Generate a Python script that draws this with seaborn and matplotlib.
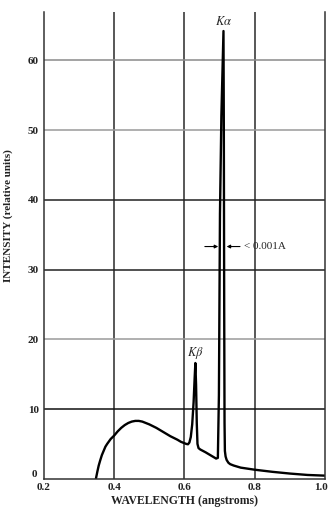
import matplotlib
matplotlib.use("Agg")
import matplotlib.pyplot as plt
import matplotlib.transforms as mtransforms
import seaborn as sns
import pandas as pd

# Data
wavelength = [0.348, 0.352, 0.356, 0.360, 0.365, 0.370, 0.375, 0.380, 0.390, 0.400,
              0.410, 0.420, 0.430, 0.440, 0.450, 0.460, 0.470, 0.480, 0.490, 0.500,
              0.520, 0.540, 0.560, 0.580, 0.590, 0.600, 0.605, 0.610, 0.614, 0.618,
              0.622, 0.626, 0.629, 0.631, 0.633, 0.635, 0.637, 0.640, 0.645, 0.660,
              0.680, 0.690, 0.695, 0.698, 0.701, 0.705, 0.711, 0.712, 0.713, 0.714,
              0.715, 0.717, 0.720, 0.725, 0.730, 0.740, 0.760, 0.800, 0.850, 0.900,
              0.950, 1.000]
intensity = [0.0, 1.0, 1.9, 2.6, 3.4, 4.0, 4.6, 5.0, 5.7, 6.2,
             6.8, 7.3, 7.7, 8.0, 8.2, 8.3, 8.3, 8.2, 8.0, 7.8,
             7.3, 6.7, 6.1, 5.6, 5.3, 5.1, 5.0, 4.95, 5.2, 6.0,
             7.8, 11.0, 14.5, 16.6, 13.5, 8.0, 5.0, 4.4, 4.2, 3.8,
             3.2, 2.9, 3.0, 12.0, 38.0, 52.0, 64.2, 50.0, 25.0, 8.0,
             4.0, 3.2, 2.7, 2.3, 2.1, 1.9, 1.6, 1.3, 1.0, 0.75,
             0.55, 0.45]
x_ticks = [0.2, 0.4, 0.6, 0.8, 1.0]
x_tick_labels = ["0.2", "0.4", "0.6", "0.8", "1.0"]
y_ticks = [0, 10, 20, 30, 40, 50, 60]
y_tick_labels = ["0", "10", "20", "30", "40", "50", "60"]

df = pd.DataFrame({"wavelength": wavelength, "intensity": intensity})

sns.set_style("white")
plt.rcParams["font.family"] = ["Liberation Serif", "DejaVu Serif"]
plt.rcParams["mathtext.fontset"] = "stix"

fig = plt.figure(figsize=(3.30, 5.08), dpi=100)
ax = fig.add_axes([0.133, 0.0575, 0.852, 0.9185])

sns.lineplot(data=df, x="wavelength", y="intensity", ax=ax, color="black",
             linewidth=1.7, sort=False)

ax.set_xlim(0.2, 1.0)
ax.set_ylim(0, 66.9)
ax.set_xticks(x_ticks)
ax.set_xticklabels(x_tick_labels, fontsize=8, fontweight="bold", color="#222222")
ax.set_yticks(y_ticks)
ax.set_yticklabels(y_tick_labels, fontsize=8, fontweight="bold", color="#222222")
ax.tick_params(axis="y", length=2, width=0.8, pad=1.5, direction="out", color="#333333")
ax.tick_params(axis="x", length=0, pad=3)
last = ax.get_xticklabels()[-1]
last.set_transform(last.get_transform() +
                   mtransforms.ScaledTranslation(-4 / 100, 0, fig.dpi_scale_trans))
zero = ax.get_yticklabels()[0]
zero.set_transform(zero.get_transform() +
                   mtransforms.ScaledTranslation(-2 / 100, 5 / 100, fig.dpi_scale_trans))

# grid
for xv in [0.4, 0.6, 0.8]:
    ax.axvline(xv, color="#2a2a2a", linewidth=1.1, zorder=0)
grid_colors = {10: "#111111", 20: "#9a9a9a", 30: "#222222", 40: "#222222",
               50: "#9a9a9a", 60: "#8a8a8a"}
for yv, c in grid_colors.items():
    ax.axhline(yv, color=c, linewidth=1.1, zorder=0)

for side in ["left", "right", "bottom"]:
    ax.spines[side].set_color("#333333")
    ax.spines[side].set_linewidth(1.1)
ax.spines["top"].set_visible(False)

ax.set_xlabel("WAVELENGTH (angstroms)", fontsize=8.5, fontweight="bold",
              color="#222222", labelpad=2)
ax.set_ylabel("INTENSITY (relative units)", fontsize=8, fontweight="bold",
              color="#222222")
ax.yaxis.set_label_coords(-0.11, 0.565)

# annotations
ax.text(0.711, 64.6, r"$K\alpha$", ha="center", va="bottom", fontsize=9)
ax.text(0.632, 16.9, r"$K\beta$", ha="center", va="bottom", fontsize=9)
ax.annotate("", xy=(0.696, 33.3), xytext=(0.658, 33.3),
            arrowprops=dict(arrowstyle="-|>", color="black", lw=0.8,
                            mutation_scale=5, shrinkA=0, shrinkB=0))
ax.annotate("", xy=(0.720, 33.3), xytext=(0.758, 33.3),
            arrowprops=dict(arrowstyle="-|>", color="black", lw=0.8,
                            mutation_scale=5, shrinkA=0, shrinkB=0))
ax.text(0.770, 33.3, "< 0.001A", ha="left", va="center", fontsize=8)

fig.savefig("out.png", dpi=100)
